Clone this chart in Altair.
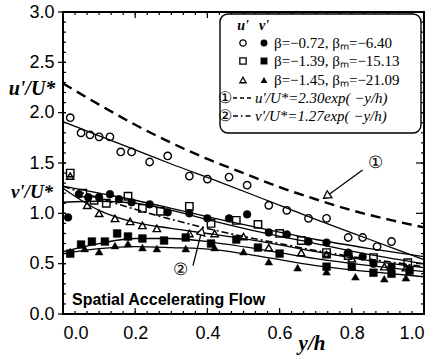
import altair as alt
import pandas as pd

# ---------------- data ----------------
# u' (open symbols)
uc_x = [0.02, 0.05, 0.075, 0.10, 0.13, 0.16, 0.19, 0.24, 0.29, 0.35, 0.40, 0.46, 0.51, 0.57, 0.62, 0.68, 0.73, 0.79, 0.83, 0.87, 0.91]
uc_y = [1.95, 1.80, 1.78, 1.76, 1.76, 1.61, 1.61, 1.51, 1.57, 1.37, 1.34, 1.36, 1.28, 1.08, 1.03, 0.95, 0.95, 0.76, 0.76, 0.67, 0.72]

us_x = [0.02, 0.055, 0.086, 0.12, 0.18, 0.22, 0.27, 0.35, 0.41, 0.48, 0.54, 0.60, 0.66, 0.73, 0.79, 0.86, 0.955]
us_y = [1.40, 1.20, 1.13, 1.10, 1.17, 1.05, 1.02, 1.07, 0.90, 0.93, 0.89, 0.80, 0.73, 0.61, 0.58, 0.56, 0.51]

ut_x = [0.02, 0.067, 0.10, 0.144, 0.186, 0.22, 0.26, 0.35, 0.42, 0.50, 0.57, 0.66, 0.73, 0.80, 0.89, 0.95]
ut_y = [1.37, 1.08, 1.00, 0.95, 0.92, 0.88, 0.85, 0.80, 0.80, 0.77, 0.66, 0.61, 0.59, 0.55, 0.47, 0.46]

# v' (filled symbols)
vc_x = [0.014, 0.044, 0.07, 0.10, 0.13, 0.155, 0.19, 0.24, 0.29, 0.35, 0.40, 0.46, 0.51, 0.57, 0.62, 0.68, 0.73, 0.79, 0.83, 0.86, 0.91]
vc_y = [0.96, 1.19, 1.16, 1.16, 1.19, 1.14, 1.11, 1.09, 1.01, 1.00, 0.95, 0.95, 0.99, 0.81, 0.79, 0.72, 0.71, 0.61, 0.57, 0.50, 0.47]

vs_x = [0.02, 0.05, 0.08, 0.116, 0.15, 0.18, 0.22, 0.28, 0.34, 0.41, 0.48, 0.54, 0.60, 0.73, 0.80, 0.86, 0.91, 0.96]
vs_y = [0.60, 0.69, 0.72, 0.72, 0.80, 0.77, 0.75, 0.73, 0.76, 0.70, 0.74, 0.66, 0.60, 0.47, 0.47, 0.41, 0.40, 0.43]

vt_x = [0.02, 0.06, 0.10, 0.144, 0.18, 0.22, 0.26, 0.34, 0.42, 0.50, 0.57, 0.65, 0.73, 0.81, 0.89, 0.95]
vt_y = [0.62, 0.65, 0.62, 0.68, 0.70, 0.66, 0.65, 0.65, 0.66, 0.62, 0.52, 0.46, 0.42, 0.37, 0.35, 0.36]

# fitted solid curves
fit_x = [0.0, 0.1, 0.2, 0.3, 0.42, 0.55, 0.7, 0.85, 1.0]
fitA_y = [1.91, 1.77, 1.63, 1.49, 1.33, 1.15, 0.94, 0.74, 0.54]
fitB_y = [1.27, 1.20, 1.13, 1.05, 0.95, 0.85, 0.74, 0.65, 0.57]
fitC_y = [1.11, 1.12, 1.10, 1.03, 0.92, 0.81, 0.70, 0.59, 0.50]
fitD_y = [1.25, 1.03, 0.91, 0.85, 0.79, 0.72, 0.62, 0.53, 0.46]
fitE_y = [0.62, 0.70, 0.75, 0.75, 0.71, 0.64, 0.55, 0.48, 0.42]
fitF_y = [0.60, 0.65, 0.67, 0.66, 0.64, 0.57, 0.48, 0.42, 0.37]

# reference curves (1) and (2)
ref_x = [0.0, 0.1, 0.2, 0.3, 0.4, 0.5, 0.6, 0.7, 0.8, 0.9, 1.0]
ref1_y = [2.29, 2.08, 1.88, 1.70, 1.54, 1.40, 1.26, 1.14, 1.03, 0.94, 0.86]
ref2_y = [1.27, 1.15, 1.04, 0.94, 0.85, 0.77, 0.70, 0.63, 0.57, 0.52, 0.47]

# ticks
x_major = [0.0, 0.2, 0.4, 0.6, 0.8, 1.0]
x_minor = [i / 30 for i in range(31)]
y_major = [0.0, 0.5, 1.0, 1.5, 2.0, 2.5, 3.0]
y_minor = [i / 10 for i in range(31)]

legend_rows = ["β=−0.72, βₘ=−6.40", "β=−1.39, βₘ=−15.13", "β=−1.45, βₘ=−21.09"]

# arrows (annotation lines, data coords)
arr1_x = [0.83, 0.73]
arr1_y = [1.43, 1.17]
arr2_x = [0.36, 0.384]
arr2_y = [0.48, 0.82]

# ---------------- chart ----------------
W, H = 361, 302
X = alt.Scale(domain=[0, 1], nice=False, zero=False)
Y = alt.Scale(domain=[0, 3], nice=False, zero=False)
SERIF = "Liberation Serif"
SANS = "Liberation Sans"
dummy = pd.DataFrame({"a": [0]})

AX = alt.Axis(values=x_major, format=".1f", title=None, grid=False, ticks=False, domain=False,
              labelFontSize=18, labelFont=SANS, labelPadding=10, labelColor="black")
AY = alt.Axis(values=y_major, format=".1f", title=None, grid=False, ticks=False, domain=False,
              labelFontSize=18, labelFont=SANS, labelPadding=9, labelColor="black")
xs = alt.X("x:Q", scale=X, axis=AX)
ys = alt.Y("y:Q", scale=Y, axis=AY)


def pts(xv, yv, shape, filled, size):
    df = pd.DataFrame({"x": xv, "y": yv})
    if filled:
        m = alt.Chart(df).mark_point(shape=shape, filled=True, fill="black", stroke="black",
                                     strokeWidth=0.5, size=size, opacity=1)
    else:
        m = alt.Chart(df).mark_point(shape=shape, filled=False, stroke="black",
                                     strokeWidth=1.4, size=size, opacity=1)
    return m.encode(x=xs, y=ys)


def line(xv, yv, **kw):
    df = pd.DataFrame({"x": xv, "y": yv})
    return alt.Chart(df).mark_line(color="black", **kw).encode(x=xs, y=ys)


def txt(t, x, y, **kw):
    return alt.Chart(dummy).mark_text(text=t, **kw).encode(x=alt.value(x), y=alt.value(y))


layers = []

# fits
for fy in [fitA_y, fitB_y, fitC_y, fitD_y, fitE_y, fitF_y]:
    layers.append(line(fit_x, fy, strokeWidth=1.3, interpolate="monotone"))
layers.append(line(ref_x, ref1_y, strokeWidth=2.4, strokeDash=[10, 6], interpolate="monotone"))
layers.append(line(ref_x, ref2_y, strokeWidth=1.6, strokeDash=[7, 3, 2, 3], interpolate="monotone"))

# points
layers.append(pts(uc_x, uc_y, "circle", False, 55))
layers.append(pts(us_x, us_y, "square", False, 55))
layers.append(pts(ut_x, ut_y, "triangle-up", False, 55))
layers.append(pts(vc_x, vc_y, "circle", True, 60))
layers.append(pts(vs_x, vs_y, "square", True, 60))
layers.append(pts(vt_x, vt_y, "triangle-up", True, 60))

# ticks
tx_maj = pd.DataFrame({"x": x_major})
tx_min = pd.DataFrame({"x": x_minor})
ty_maj = pd.DataFrame({"y": y_major})
ty_min = pd.DataFrame({"y": y_minor})
for df, ln in [(tx_min, 3), (tx_maj, 6)]:
    layers.append(alt.Chart(df).mark_rule(color="black", strokeWidth=1.2).encode(
        x=xs, y=alt.value(H), y2=alt.value(H - ln)))
    layers.append(alt.Chart(df).mark_rule(color="black", strokeWidth=1.2).encode(
        x=xs, y=alt.value(0), y2=alt.value(ln)))
for df, ln, out in [(ty_min, 3, 0), (ty_maj, 3, 5)]:
    layers.append(alt.Chart(df).mark_rule(color="black", strokeWidth=1.2).encode(
        y=ys, x=alt.value(-out), x2=alt.value(ln)))
    layers.append(alt.Chart(df).mark_rule(color="black", strokeWidth=1.2).encode(
        y=ys, x=alt.value(W), x2=alt.value(W - ln - out)))

# arrows
layers.append(line(arr1_x, arr1_y, strokeWidth=1.3))
layers.append(line(arr2_x, arr2_y, strokeWidth=1.3))
layers.append(alt.Chart(pd.DataFrame({"x": [arr1_x[1]], "y": [arr1_y[1]]})).mark_point(
    shape="triangle-up", filled=True, fill="white", stroke="black", strokeWidth=1.3, size=70,
    angle=236, opacity=1).encode(x=xs, y=ys))
layers.append(alt.Chart(pd.DataFrame({"x": [arr2_x[1]], "y": [arr2_y[1]]})).mark_point(
    shape="triangle-up", filled=True, fill="white", stroke="black", strokeWidth=1.3, size=70,
    angle=14, opacity=1).encode(x=xs, y=ys))
layers.append(txt("①", 312, 151, font=SERIF, fontSize=17, color="black", align="center", baseline="middle"))
layers.append(txt("②", 117, 258, font=SERIF, fontSize=17, color="black", align="center", baseline="middle"))

# legend box
layers.append(alt.Chart(dummy).mark_rect(fill="white", stroke="black", strokeWidth=1.4, cornerRadius=8).encode(
    x=alt.value(157), x2=alt.value(358), y=alt.value(2), y2=alt.value(121)))
layers.append(txt("u'", 180, 14, font=SERIF, fontSize=14, fontStyle="italic", fontWeight="bold",
                  color="black", align="center", baseline="middle"))
layers.append(txt("v'", 201, 14, font=SERIF, fontSize=14, fontStyle="italic", fontWeight="bold",
                  color="black", align="center", baseline="middle"))
row_y = [31, 49, 68]
shapes = ["circle", "square", "triangle-up"]
for ry, sh, lab in zip(row_y, shapes, legend_rows):
    layers.append(alt.Chart(dummy).mark_point(shape=sh, filled=False, stroke="black", strokeWidth=1.3,
                                              size=40, opacity=1).encode(x=alt.value(180), y=alt.value(ry)))
    layers.append(alt.Chart(dummy).mark_point(shape=sh, filled=True, fill="black", size=48,
                                              opacity=1).encode(x=alt.value(201), y=alt.value(ry)))
    layers.append(txt(lab, 211, ry, font=SERIF, fontSize=15, color="black", align="left", baseline="middle"))

layers.append(txt("①", 162, 86, font=SERIF, fontSize=16, color="black", align="center", baseline="middle"))
layers.append(txt("②", 162, 104, font=SERIF, fontSize=16, color="black", align="center", baseline="middle"))
layers.append(alt.Chart(dummy).mark_rule(color="black", strokeWidth=1.5, strokeDash=[4, 3]).encode(
    x=alt.value(170), x2=alt.value(190), y=alt.value(86)))
layers.append(alt.Chart(dummy).mark_rule(color="black", strokeWidth=1.5, strokeDash=[5, 3, 1.5, 3]).encode(
    x=alt.value(170), x2=alt.value(190), y=alt.value(104)))
layers.append(txt("u'/U*=2.30exp( −y/h)", 192, 86, font=SERIF, fontSize=15, fontStyle="italic",
                  color="black", align="left", baseline="middle"))
layers.append(txt("v'/U*=1.27exp( −y/h)", 192, 104, font=SERIF, fontSize=15, fontStyle="italic",
                  color="black", align="left", baseline="middle"))

# axis titles and caption
layers.append(txt("u'/U*", -31, 77, font=SERIF, fontSize=20, fontStyle="italic", fontWeight="bold",
                  color="black", align="center", baseline="middle"))
layers.append(txt("v'/U*", -31, 180, font=SERIF, fontSize=19, fontStyle="italic", fontWeight="bold",
                  color="black", align="center", baseline="middle"))
layers.append(txt("y/h", 249, 332, font=SERIF, fontSize=21, fontStyle="italic", fontWeight="bold",
                  color="black", align="center", baseline="middle"))
layers.append(txt("Spatial Accelerating Flow", 9, 288, font=SANS, fontSize=16, fontWeight="bold",
                  color="black", align="left", baseline="middle"))

chart = alt.layer(*layers).properties(
    width=W, height=H,
    padding={"left": 63, "top": 12, "right": 11, "bottom": 45},
    autosize=alt.AutoSizeParams(type="none"),
    background="white",
).configure_view(stroke="black", strokeWidth=2)

chart.save("out.html", embed_options={"renderer": "svg", "actions": False})
